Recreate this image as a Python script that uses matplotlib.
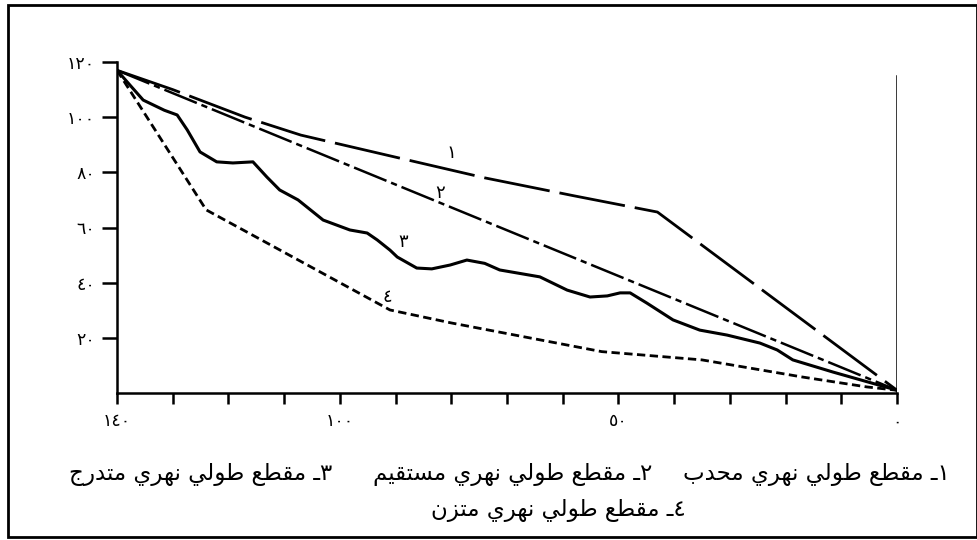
import matplotlib.pyplot as plt
from matplotlib.patches import Rectangle

# distance (x) and height (y)
x1 = [140, 130, 117, 107, 90, 74, 58, 43, 0]
y1 = [117, 110, 100, 93.5, 85.5, 78, 71.5, 65.6, 1]

x2 = [140, 0]
y2 = [117, 1]

x3 = [140, 137.4, 135.3, 131.5, 129.2, 127.4, 125.1, 122.1, 119.2, 115.6,
      113.1, 110.8, 107.5, 103, 98.2, 95.1, 93.3, 91, 89.7, 86.2,
      83.5, 80.2, 77.2, 74, 71.3, 64.1, 59.2, 55.1, 52, 49.7,
      47.9, 44.9, 40.2, 35.4, 30.5, 24.6, 21.5, 18.7, 11.5, 0]
y3 = [117, 111, 106.2, 102.5, 100.8, 95.4, 87.4, 83.8, 83.4, 83.8,
      78.3, 73.6, 70, 62.7, 59.1, 58, 55.5, 51.8, 49.3, 45.3,
      45, 46.4, 48.2, 47, 44.6, 42.1, 37.3, 34.8, 35.2, 36.3,
      36.3, 32.6, 26.5, 22.8, 21, 18.1, 15.6, 12, 7.6, 1]

x4 = [140, 124, 91, 80, 53, 35, 17, 5.4, 0]
y4 = [117, 66.4, 30.1, 25.4, 15, 12, 5.8, 2.2, 1]

xticks = list(range(0, 141, 10))
xlabels = {140: "١٤٠", 100: "١٠٠", 50: "٥٠", 0: "٠"}
yticks = [20, 40, 60, 80, 100, 120]
ylabels = ["٢٠", "٤٠", "٦٠", "٨٠", "١٠٠", "١٢٠"]

curve_names = ["١", "٢", "٣", "٤"]
label_pos = [(80, 87), (82, 72.5), (88.7, 54.7), (91.4, 34.8)]

legend_items = ["١ـ مقطع طولي نهري محدب",
                "٢ـ مقطع طولي نهري مستقيم",
                "٣ـ مقطع طولي نهري متدرج",
                "٤ـ مقطع طولي نهري متزن"]

# simple arabic shaping (matplotlib has no bidi/shaping)
FORMS = {
    "ب": "\uFE8F\uFE90\uFE91\uFE92", "ت": "\uFE95\uFE96\uFE97\uFE98",
    "ج": "\uFE9D\uFE9E\uFE9F\uFEA0", "ح": "\uFEA1\uFEA2\uFEA3\uFEA4",
    "س": "\uFEB1\uFEB2\uFEB3\uFEB4", "ط": "\uFEC1\uFEC2\uFEC3\uFEC4",
    "ع": "\uFEC9\uFECA\uFECB\uFECC", "ق": "\uFED5\uFED6\uFED7\uFED8",
    "ل": "\uFEDD\uFEDE\uFEDF\uFEE0", "م": "\uFEE1\uFEE2\uFEE3\uFEE4",
    "ن": "\uFEE5\uFEE6\uFEE7\uFEE8", "ه": "\uFEE9\uFEEA\uFEEB\uFEEC",
    "ي": "\uFEF1\uFEF2\uFEF3\uFEF4",
    "د": "\uFEA9\uFEAA", "ر": "\uFEAD\uFEAE", "ز": "\uFEAF\uFEB0",
    "و": "\uFEED\uFEEE",
    "ـ": "ــــ",
}


def dual(c):
    return c in FORMS and len(FORMS[c]) == 4


def shape(s):
    out = []
    for i, c in enumerate(s):
        if c not in FORMS:
            out.append(c)
            continue
        prev = s[i - 1] if i > 0 else ""
        nxt = s[i + 1] if i + 1 < len(s) else ""
        jp = dual(prev)
        jn = dual(c) and nxt in FORMS
        f = FORMS[c]
        if jp and jn:
            out.append(f[3])
        elif jp:
            out.append(f[1])
        elif jn:
            out.append(f[2])
        else:
            out.append(f[0])
    return "".join(reversed(out))


plt.rcParams["font.family"] = ["DejaVu Sans"]

fig = plt.figure(figsize=(9.78, 5.40), dpi=100)
fig.patches.append(Rectangle((8 / 978, 3 / 540), 969 / 978, 532 / 540,
                             transform=fig.transFigure, fill=False,
                             edgecolor="black", linewidth=2))

ax = fig.add_axes([117 / 978, 147 / 540, 780 / 978, 331 / 540])
ax.plot(x1, y1, color="black", lw=2, linestyle=(0, (24, 3.6)))
ax.plot(x2, y2, color="black", lw=1.8, linestyle=(0, (14, 2, 2.5, 2)))
ax.plot(x3, y3, color="black", lw=2.2, solid_joinstyle="round")
ax.plot(x4, y4, color="black", lw=2, linestyle=(0, (3, 1.6)))
ax.axvline(0, ymax=115 / 120, color="black", lw=1.8)

for name, (px, py) in zip(curve_names, label_pos):
    ax.text(px, py, name, fontsize=13, ha="center", va="center")

ax.set_xlim(140, 0)
ax.set_ylim(0, 120)
ax.set_xticks(xticks)
ax.set_xticklabels([xlabels.get(t, "") for t in xticks])
ax.set_yticks(yticks)
ax.set_yticklabels(ylabels)
ax.tick_params(axis="both", colors="black", labelsize=12.5, width=1.8)
ax.tick_params(axis="x", length=8, pad=6)
ax.tick_params(axis="y", length=11, pad=5)
for side in ["top", "right"]:
    ax.spines[side].set_visible(False)
for side in ["left", "bottom"]:
    ax.spines[side].set_linewidth(1.8)

fs = 16.5
fig.text(950 / 978, 1 - 475 / 540, shape(legend_items[0]), ha="right", va="center", fontsize=fs)
fig.text(652 / 978, 1 - 475 / 540, shape(legend_items[1]), ha="right", va="center", fontsize=fs)
fig.text(332 / 978, 1 - 475 / 540, shape(legend_items[2]), ha="right", va="center", fontsize=fs)
fig.text(558 / 978, 1 - 510 / 540, shape(legend_items[3]), ha="center", va="center", fontsize=fs)

fig.savefig("out.png", dpi=100)
